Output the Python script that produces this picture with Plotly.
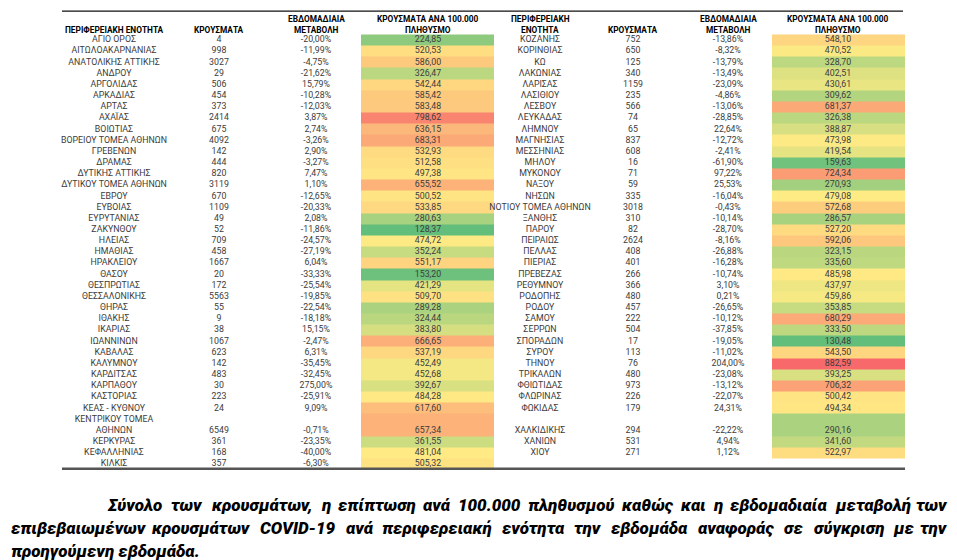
import numpy as np
import plotly.graph_objects as go

# left half of the table
left_names = [
    "ΑΓΙΟ ΟΡΟΣ", "ΑΙΤΩΛΟΑΚΑΡΝΑΝΙΑΣ", "ΑΝΑΤΟΛΙΚΗΣ ΑΤΤΙΚΗΣ", "ΑΝΔΡΟΥ", "ΑΡΓΟΛΙΔΑΣ",
    "ΑΡΚΑΔΙΑΣ", "ΑΡΤΑΣ", "ΑΧΑΪΑΣ", "ΒΟΙΩΤΙΑΣ", "ΒΟΡΕΙΟΥ ΤΟΜΕΑ ΑΘΗΝΩΝ",
    "ΓΡΕΒΕΝΩΝ", "ΔΡΑΜΑΣ", "ΔΥΤΙΚΗΣ ΑΤΤΙΚΗΣ", "ΔΥΤΙΚΟΥ ΤΟΜΕΑ ΑΘΗΝΩΝ", "ΕΒΡΟΥ",
    "ΕΥΒΟΙΑΣ", "ΕΥΡΥΤΑΝΙΑΣ", "ΖΑΚΥΝΘΟΥ", "ΗΛΕΙΑΣ", "ΗΜΑΘΙΑΣ",
    "ΗΡΑΚΛΕΙΟΥ", "ΘΑΣΟΥ", "ΘΕΣΠΡΩΤΙΑΣ", "ΘΕΣΣΑΛΟΝΙΚΗΣ", "ΘΗΡΑΣ",
    "ΙΘΑΚΗΣ", "ΙΚΑΡΙΑΣ", "ΙΩΑΝΝΙΝΩΝ", "ΚΑΒΑΛΑΣ", "ΚΑΛΥΜΝΟΥ",
    "ΚΑΡΔΙΤΣΑΣ", "ΚΑΡΠΑΘΟΥ", "ΚΑΣΤΟΡΙΑΣ", "ΚΕΑΣ - ΚΥΘΝΟΥ", "ΚΕΝΤΡΙΚΟΥ ΤΟΜΕΑ<br>ΑΘΗΝΩΝ",
    "ΚΕΡΚΥΡΑΣ", "ΚΕΦΑΛΛΗΝΙΑΣ", "ΚΙΛΚΙΣ",
]
left_cases = [4, 998, 3027, 29, 506, 454, 373, 2414, 675, 4092,
              142, 444, 820, 3119, 670, 1109, 49, 52, 709, 458,
              1667, 20, 172, 5563, 55, 9, 38, 1067, 623, 142,
              483, 30, 223, 24, 6549, 361, 168, 357]
left_change = [-20.00, -11.99, -4.75, -21.62, 15.79, -10.28, -12.03, 3.87, 2.74, -3.26,
               2.90, -3.27, 7.47, 1.10, -12.65, -20.33, 2.08, -11.86, -24.57, -27.19,
               6.04, -33.33, -25.54, -19.85, -22.54, -18.18, 15.15, -2.47, 6.31, -35.45,
               -32.45, 275.00, -25.91, 9.09, -0.71, -23.35, -40.00, -6.30]
left_rate = [224.85, 520.53, 586.00, 326.47, 542.44, 585.42, 583.48, 798.62, 636.15, 683.31,
             532.93, 512.58, 497.38, 655.52, 500.52, 533.85, 280.63, 128.37, 474.72, 352.24,
             551.17, 153.20, 421.29, 509.70, 289.28, 324.44, 383.80, 666.65, 537.19, 452.49,
             452.68, 392.67, 484.28, 617.60, 657.34, 361.55, 481.04, 505.32]

# right half of the table
right_names = [
    "ΚΟΖΑΝΗΣ", "ΚΟΡΙΝΘΙΑΣ", "ΚΩ", "ΛΑΚΩΝΙΑΣ", "ΛΑΡΙΣΑΣ",
    "ΛΑΣΙΘΙΟΥ", "ΛΕΣΒΟΥ", "ΛΕΥΚΑΔΑΣ", "ΛΗΜΝΟΥ", "ΜΑΓΝΗΣΙΑΣ",
    "ΜΕΣΣΗΝΙΑΣ", "ΜΗΛΟΥ", "ΜΥΚΟΝΟΥ", "ΝΑΞΟΥ", "ΝΗΣΩΝ",
    "ΝΟΤΙΟΥ ΤΟΜΕΑ ΑΘΗΝΩΝ", "ΞΑΝΘΗΣ", "ΠΑΡΟΥ", "ΠΕΙΡΑΙΩΣ", "ΠΕΛΛΑΣ",
    "ΠΙΕΡΙΑΣ", "ΠΡΕΒΕΖΑΣ", "ΡΕΘΥΜΝΟΥ", "ΡΟΔΟΠΗΣ", "ΡΟΔΟΥ",
    "ΣΑΜΟΥ", "ΣΕΡΡΩΝ", "ΣΠΟΡΑΔΩΝ", "ΣΥΡΟΥ", "ΤΗΝΟΥ",
    "ΤΡΙΚΑΛΩΝ", "ΦΘΙΩΤΙΔΑΣ", "ΦΛΩΡΙΝΑΣ", "ΦΩΚΙΔΑΣ", "<br>ΧΑΛΚΙΔΙΚΗΣ",
    "ΧΑΝΙΩΝ", "ΧΙΟΥ",
]
right_cases = [752, 650, 125, 340, 1159, 235, 566, 74, 65, 837,
               608, 16, 71, 59, 335, 3018, 310, 82, 2624, 408,
               401, 266, 366, 480, 457, 222, 504, 17, 113, 76,
               480, 973, 226, 179, 294, 531, 271]
right_change = [-13.86, -8.32, -13.79, -13.49, -23.09, -4.86, -13.06, -28.85, 22.64, -12.72,
                -2.41, -61.90, 97.22, 25.53, -16.04, -0.43, -10.14, -28.70, -8.16, -26.88,
                -16.28, -10.74, 3.10, 0.21, -26.65, -10.12, -37.85, -19.05, -11.02, 204.00,
                -23.08, -13.12, -22.07, 24.31, -22.22, 4.94, 1.12]
right_rate = [548.10, 470.52, 328.70, 402.51, 430.61, 309.62, 681.37, 326.38, 388.87, 473.98,
              419.54, 159.63, 724.34, 270.93, 479.08, 572.68, 286.57, 527.20, 592.06, 323.15,
              335.60, 485.98, 437.97, 459.86, 353.85, 680.29, 333.50, 130.48, 543.50, 882.59,
              393.25, 706.32, 500.42, 494.34, 290.16, 341.60, 522.97]

head_left = ["<br>ΠΕΡΙΦΕΡΕΙΑΚΗ ΕΝΟΤΗΤΑ", "<br>ΚΡΟΥΣΜΑΤΑ", "ΕΒΔΟΜΑΔΙΑΙΑ<br>ΜΕΤΑΒΟΛΗ",
             "ΚΡΟΥΣΜΑΤΑ ΑΝΑ 100.000<br>ΠΛΗΘΥΣΜΟ"]
head_right = ["ΠΕΡΙΦΕΡΕΙΑΚΗ<br>ΕΝΟΤΗΤΑ", "<br>ΚΡΟΥΣΜΑΤΑ", "ΕΒΔΟΜΑΔΙΑΙΑ<br>ΜΕΤΑΒΟΛΗ",
              "ΚΡΟΥΣΜΑΤΑ ΑΝΑ 100.000<br>ΠΛΗΘΥΣΜΟ"]

caption = [
    "Σύνολο των κρουσμάτων, η επίπτωση ανά 100.000 πληθυσμού καθώς και η εβδομαδιαία μεταβολή των",
    "επιβεβαιωμένων κρουσμάτων COVID-19 ανά περιφερειακή ενότητα την εβδομάδα αναφοράς σε σύγκριση με την",
    "προηγούμενη εβδομάδα.",
]

# layout in pixel units
Y_TOP = 26.5
ROW_H = 11.16
HEAD_Y = [10.5, 21.6]
TXT = "#3c3c3c"
FONT = "Roboto"
CAP_FONT = dict(family="Roboto", size=17, color="#000000", weight=900, style="italic")

all_rates = np.array(left_rate + right_rate)
lo, hi = all_rates.min(), all_rates.max()
mid = np.percentile(all_rates, 50)
scale = [[0, "#63BE7B"], [(mid - lo) / (hi - lo), "#FFEB84"], [1, "#F8696B"]]


def fmt(v, dec=2):
    return f"{v:.{dec}f}".replace(".", ",")


fig = go.Figure()


def add_side(names, cases, change, rate, heads, col_x, cell_x):
    bounds = [Y_TOP]
    nx, ny, nt = [], [], []
    vy = []
    u = 0
    for name in names:
        lines = name.split("<br>")
        for k, ln in enumerate(lines):
            if ln:
                nx.append(col_x[0])
                ny.append(Y_TOP + (u + k + 0.5) * ROW_H)
                nt.append(ln)
        u += len(lines)
        vy.append(Y_TOP + (u - 0.5) * ROW_H)
        bounds.append(Y_TOP + u * ROW_H)

    fig.add_trace(go.Heatmap(
        x=cell_x, y=bounds, z=[[v] for v in rate],
        zmin=lo, zmax=hi, colorscale=scale, showscale=False, hoverinfo="skip"))

    fig.add_trace(go.Scatter(x=nx, y=ny, text=nt, mode="text",
                             textfont=dict(family=FONT, size=8.8, color=TXT), hoverinfo="skip"))
    cols = [
        [str(c) for c in cases],
        [fmt(c) + "%" for c in change],
        [fmt(r) for r in rate],
    ]
    for cx, texts in zip(col_x[1:], cols):
        fig.add_trace(go.Scatter(x=[cx] * len(texts), y=vy, text=texts, mode="text",
                                 textfont=dict(family=FONT, size=8.8, color=TXT), hoverinfo="skip"))

    for cx, h in zip(col_x, heads):
        top, bottom = h.split("<br>")
        for yy, t in zip(HEAD_Y, [top, bottom]):
            if t:
                fig.add_annotation(x=cx, y=yy, text=f"<b>{t}</b>", showarrow=False,
                                   font=dict(family=FONT, size=8.3, color="#000000"))


add_side(left_names, left_cases, left_change, left_rate, head_left,
         [106, 211, 308, 420], [353, 486])
add_side(right_names, right_cases, right_change, right_rate, head_right,
         [532, 625, 720, 830], [764, 897])

# table rules
fig.add_shape(type="line", x0=54, x1=895, y0=3.2, y1=3.2, line=dict(color="#111111", width=1.3))
fig.add_shape(type="line", x0=54, x1=897, y0=460.8, y1=460.8, line=dict(color="#555555", width=2.4))

# rough glyph widths (em) so justified words can be spread over the line
GLYPH_W = {}
for chars, w in [("ιίϊlI", 0.29), (".,:;!'", 0.25), ("-", 0.32), ("ωώ", 0.84),
                 ("φψ", 0.72), ("πμ", 0.6), ("τνγχ", 0.5), ("ςζξ", 0.47), ("ρ", 0.55)]:
    for ch in chars:
        GLYPH_W[ch] = w


def word_w(w):
    tot = 0
    for ch in w:
        if ch in GLYPH_W:
            tot += GLYPH_W[ch]
        elif ch.isupper():
            tot += 0.68
        else:
            tot += 0.56
    return tot * CAP_FONT["size"]


def add_line(text, x0, x1, y, justify):
    if not justify:
        fig.add_annotation(x=x0, y=y, text=text, showarrow=False, xanchor="left", font=CAP_FONT)
        return
    words = text.split(" ")
    ws = [word_w(w) for w in words]
    gap = (x1 - x0 - sum(ws)) / (len(words) - 1)
    left = x0
    for i, (w, wpx) in enumerate(zip(words, ws)):
        if i == 0:
            fig.add_annotation(x=x0, y=y, text=w, showarrow=False, xanchor="left", font=CAP_FONT)
        elif i == len(words) - 1:
            fig.add_annotation(x=x1, y=y, text=w, showarrow=False, xanchor="right", font=CAP_FONT)
        else:
            fig.add_annotation(x=left + wpx / 2, y=y, text=w, showarrow=False,
                               xanchor="center", font=CAP_FONT)
        left += wpx + gap


cap_x = [97, 1, 1]
cap_y = [497, 520, 543]
cap_just = [True, True, False]
for t, cx, cy, j in zip(caption, cap_x, cap_y, cap_just):
    add_line(t, cx, 942, cy, j)

fig.update_layout(
    width=957, height=560,
    margin=dict(l=0, r=0, t=0, b=0),
    paper_bgcolor="white", plot_bgcolor="white",
    showlegend=False,
    xaxis=dict(range=[0, 957], visible=False, fixedrange=True),
    yaxis=dict(range=[560, 0], visible=False, fixedrange=True),
)

fig.write_html("out.html")
